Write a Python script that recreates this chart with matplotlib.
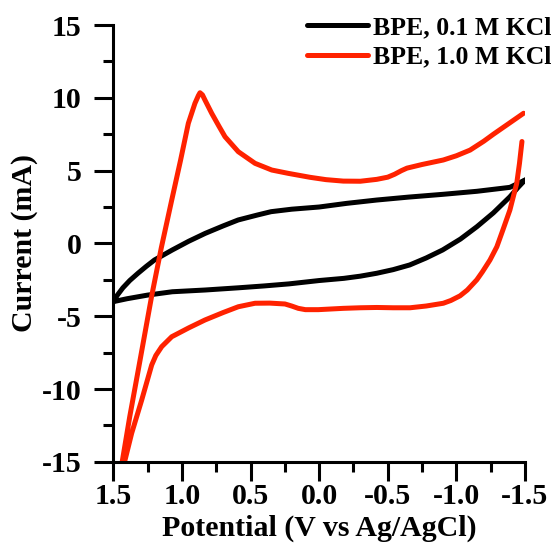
import numpy as np
import matplotlib
matplotlib.use("Agg")
import matplotlib.pyplot as plt
from matplotlib.ticker import MultipleLocator

# ---- data ----
# BPE, 0.1 M KCl : forward (upper) branch, 1.5 -> -1.5 V
black_up_v = [1.5, 1.47, 1.43, 1.38, 1.32, 1.26, 1.20, 1.07, 0.95, 0.83, 0.70, 0.59, 0.45, 0.35, 0.20, 0.0,
              -0.20, -0.42, -0.65, -0.90, -1.15, -1.39, -1.5]
black_up_i = [-4.0, -3.55, -3.05, -2.55, -2.05, -1.58, -1.14, -0.45, 0.15, 0.69, 1.20, 1.61, 1.95, 2.18,
              2.35, 2.50, 2.75, 2.98, 3.18, 3.37, 3.58, 3.85, 4.35]
# BPE, 0.1 M KCl : reverse (lower) branch, -1.5 -> 1.5 V
black_dn_v = [-1.5, -1.45, -1.39, -1.27, -1.15, -1.03, -0.90, -0.78, -0.66, -0.54, -0.42, -0.30,
              -0.18, 0.0, 0.22, 0.40, 0.59, 0.83, 1.07, 1.25, 1.40, 1.5]
black_dn_i = [4.35, 3.85, 3.20, 2.10, 1.15, 0.30, -0.45, -1.00, -1.48, -1.80, -2.05, -2.25,
              -2.40, -2.55, -2.78, -2.92, -3.05, -3.20, -3.32, -3.55, -3.80, -4.0]

# BPE, 1.0 M KCl : forward (upper) branch
red_up_v = [1.47, 1.435, 1.38, 1.318, 1.22, 1.15, 1.074, 1.01, 0.953, 0.905, 0.88, 0.868, 0.85,
            0.832, 0.783, 0.73, 0.686, 0.589, 0.467, 0.345, 0.224, 0.066, -0.05, -0.176, -0.30,
            -0.42, -0.50, -0.55, -0.60, -0.64, -0.75, -0.905, -1.0, -1.1, -1.2, -1.27, -1.38, -1.49]
red_up_i = [-17.5, -15.0, -11.9, -8.70, -3.60, -0.30, 2.98, 5.70, 8.25, 9.62, 10.15, 10.35, 10.2,
            9.85, 8.94, 8.05, 7.33, 6.30, 5.50, 5.04, 4.81, 4.54, 4.38, 4.28, 4.27,
            4.40, 4.55, 4.75, 5.00, 5.17, 5.42, 5.73, 6.02, 6.41, 7.02, 7.50, 8.22, 8.94]
# BPE, 1.0 M KCl : reverse (lower) branch
red_dn_v = [-1.478, -1.46, -1.44, -1.39, -1.34, -1.295, -1.245, -1.19, -1.149, -1.08, -1.027,
            -0.96, -0.905, -0.78, -0.663, -0.54, -0.42, -0.30, -0.176, 0.006, 0.10, 0.152, 0.20,
            0.249, 0.36, 0.467, 0.589, 0.70, 0.832, 0.95, 1.074, 1.147, 1.19, 1.22, 1.293, 1.366,
            1.415, 1.46]
red_dn_i = [7.0, 5.5, 4.13, 2.29, 0.95, -0.23, -1.14, -1.95, -2.50, -3.20, -3.60,
            -3.92, -4.11, -4.30, -4.42, -4.42, -4.40, -4.42, -4.46, -4.55, -4.55, -4.46, -4.30,
            -4.16, -4.10, -4.11, -4.35, -4.75, -5.26, -5.80, -6.41, -7.09, -7.70, -8.35, -10.76,
            -13.04, -14.9, -17.5]

labels = ["BPE, 0.1 M KCl", "BPE, 1.0 M KCl"]
colors = ["#000000", "#ff2200"]

x_ticks = [1.5, 1.0, 0.5, 0.0, -0.5, -1.0, -1.5]
x_ticklabels = ["1.5", "1.0", "0.5", "0.0", "-0.5", "-1.0", "-1.5"]
y_ticks = [15, 10, 5, 0, -5, -10, -15]
y_ticklabels = ["15", "10", "5", "0", "-5", "-10", "-15"]

# ---- figure ----
plt.rcParams['font.family'] = ['Liberation Serif', 'DejaVu Serif']
plt.rcParams['font.weight'] = 'bold'

fig = plt.figure(figsize=(5.55, 5.44), dpi=100)
ax = fig.add_axes([0.2041, 0.1511, 0.7418, 0.8029])

bx = black_up_v + [np.nan] + black_dn_v
by = black_up_i + [np.nan] + black_dn_i
rx = red_up_v + [np.nan] + red_dn_v
ry = red_up_i + [np.nan] + red_dn_i

lw = 3.6
ax.plot(bx, by, color=colors[0], lw=lw, label=labels[0], solid_joinstyle='round',
        solid_capstyle='round')
ax.plot(rx, ry, color=colors[1], lw=lw, label=labels[1], solid_joinstyle='round',
        solid_capstyle='round')

ax.set_xlim(1.5, -1.5)
ax.set_ylim(-15, 15)

ax.set_xticks(x_ticks)
ax.set_xticklabels(x_ticklabels)
ax.set_yticks(y_ticks)
ax.set_yticklabels(y_ticklabels)
ax.xaxis.set_minor_locator(MultipleLocator(0.25))
ax.yaxis.set_minor_locator(MultipleLocator(2.5))

for s in ['top', 'right']:
    ax.spines[s].set_visible(False)
for s in ['left', 'bottom']:
    ax.spines[s].set_linewidth(2.2)

ax.tick_params(axis='both', which='major', direction='out', length=14, width=2.2,
               labelsize=21.5)
ax.tick_params(axis='both', which='minor', direction='out', length=7, width=2.2)
ax.tick_params(axis='y', which='major', pad=9)
ax.tick_params(axis='x', which='major', pad=1.5)
for t in ax.get_xticklabels() + ax.get_yticklabels():
    t.set_fontweight('bold')

ax.set_xlabel("Potential (V vs Ag/AgCl)", fontsize=21.5, fontweight='bold', va='center')
ax.xaxis.set_label_coords(0.5, -0.152)
ax.set_ylabel("Current (mA)", fontsize=21.5, fontweight='bold', va='center')
ax.yaxis.set_label_coords(-0.2145, 0.5)

leg = ax.legend(loc='upper left', bbox_to_anchor=(0.553, 0.970), bbox_transform=fig.transFigure,
                frameon=False, fontsize=18.5, handlelength=2.37, handletextpad=0.2,
                labelspacing=0.25, borderpad=0, borderaxespad=0)
for t in leg.get_texts():
    t.set_fontweight('bold')

fig.savefig("out.png", dpi=100)
